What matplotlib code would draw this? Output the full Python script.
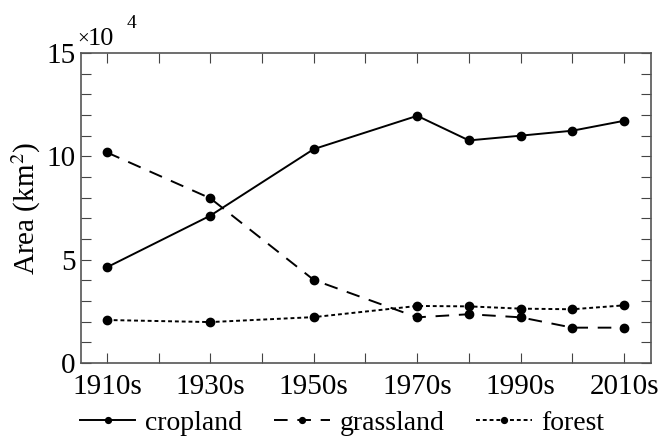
import matplotlib
matplotlib.use("Agg")
import matplotlib.pyplot as plt
from matplotlib.ticker import MultipleLocator

plt.rcParams['font.family'] = ['Liberation Serif', 'DejaVu Serif']
plt.rcParams['mathtext.fontset'] = 'stix'

# decades (year) and area in units of 10^4 km2
years = [1910, 1930, 1950, 1970, 1980, 1990, 2000, 2010]
cropland = [4.63, 7.13, 10.35, 11.96, 10.77, 11.0, 11.24, 11.72]
grassland = [10.19, 7.97, 4.02, 2.21, 2.36, 2.21, 1.71, 1.71]
forest = [2.08, 1.98, 2.22, 2.76, 2.74, 2.63, 2.6, 2.79]
tick_years = [1910, 1930, 1950, 1970, 1990, 2010]
tick_labels = ['1910s', '1930s', '1950s', '1970s', '1990s', '2010s']

W, H = 665, 438
fig = plt.figure(figsize=(W / 100, H / 100), dpi=100)
ax = fig.add_axes([81 / W, 1 - 363 / H, 570 / W, 310 / H])

ms = 6
ax.plot(years, cropland, '-', color='black', lw=1.4, marker='o', ms=ms, label='cropland')
ax.plot(years, grassland, color='black', lw=1.4, marker='o', ms=ms,
        dashes=(7, 5), label='grassland')
ax.plot(years, forest, color='black', lw=1.4, marker='o', ms=ms,
        dashes=(2, 1.5), label='forest')

ax.set_xlim(1905, 2015.2)
ax.set_ylim(0, 15)
ax.set_xticks(tick_years)
ax.set_xticklabels(tick_labels)
ax.xaxis.set_minor_locator(MultipleLocator(10))
ax.set_yticks([0, 5, 10, 15])
ax.yaxis.set_minor_locator(MultipleLocator(1))
ax.tick_params(which='both', direction='in', top=True, right=True,
               length=7, width=0.8, color='#444444', labelsize=21)
ax.tick_params(axis='x', pad=8)
ax.tick_params(axis='y', pad=4)
for sp in ax.spines.values():
    sp.set_color('#555555')
    sp.set_linewidth(1.2)

ax.set_ylabel('Area (km$^2$)', fontsize=21, labelpad=2)

# offset text x10^4
fig.text(78 / W, 1 - 41 / H, r'$\times$', fontsize=11, ha='left', va='baseline')
fig.text(88 / W, 1 - 45 / H, '10', fontsize=19, ha='left', va='baseline')
fig.text(127 / W, 1 - 28 / H, '4', fontsize=14, ha='left', va='baseline')

ax.legend(loc='center', bbox_to_anchor=(0.458, -0.194), ncol=3, frameon=False,
          fontsize=20, handlelength=2.0, handletextpad=0.35, columnspacing=1.15,
          markerscale=0.7, borderaxespad=0, borderpad=0)

fig.savefig('out.png', dpi=100)
